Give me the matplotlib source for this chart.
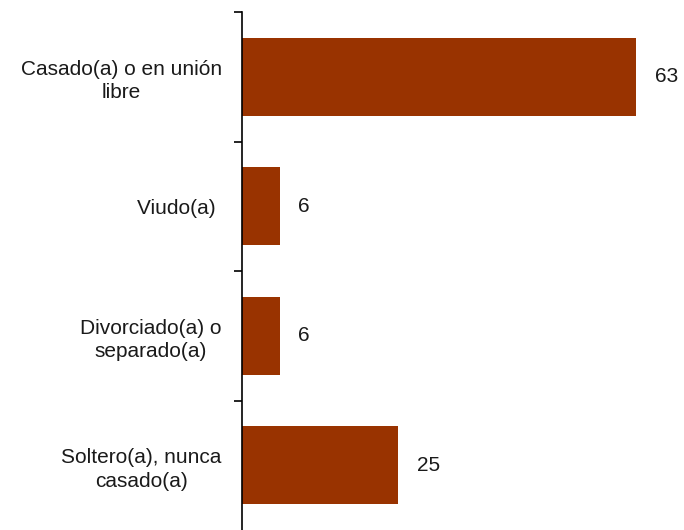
import matplotlib.pyplot as plt
import numpy as np

plt.rcParams['font.family'] = ['Liberation Sans', 'DejaVu Sans']

categorias = ['Casado(a) o en unión\nlibre', 'Viudo(a) ', 'Divorciado(a) o\nseparado(a)',
              'Soltero(a), nunca\ncasado(a)']
valores = [63, 6, 6, 25]
color_barra = '#993300'

fig = plt.figure(figsize=(6.84, 5.30), dpi=100)
ax = fig.add_axes([242 / 684, 0, 1 - 242 / 684, 518 / 530])

pos = np.arange(len(categorias))
ax.barh(pos, valores, height=0.6, color=color_barra)

for p, v in zip(pos, valores):
    ax.text(v + 3, p, str(v), va='center', ha='left', fontsize=15, color='#1a1a1a')

ax.set_xlim(0, 70.7)
ax.set_ylim(len(categorias) - 0.5, -0.5)

ax.set_yticks(pos)
ax.set_yticklabels(categorias, multialignment='center', fontsize=15, color='#1a1a1a',
                   linespacing=1.3)
ax.tick_params(axis='y', which='major', length=0, pad=14.5)
# separadores entre categorias (el de abajo queda fuera de la figura)
ax.set_yticks(np.arange(len(categorias)) - 0.5, minor=True)
ax.tick_params(axis='y', which='minor', length=6, width=1.2, color='black')
ax.set_xticks([])

for lado in ['top', 'right', 'bottom']:
    ax.spines[lado].set_visible(False)
ax.spines['left'].set_linewidth(1.2)

fig.savefig('out.png', dpi=100)
